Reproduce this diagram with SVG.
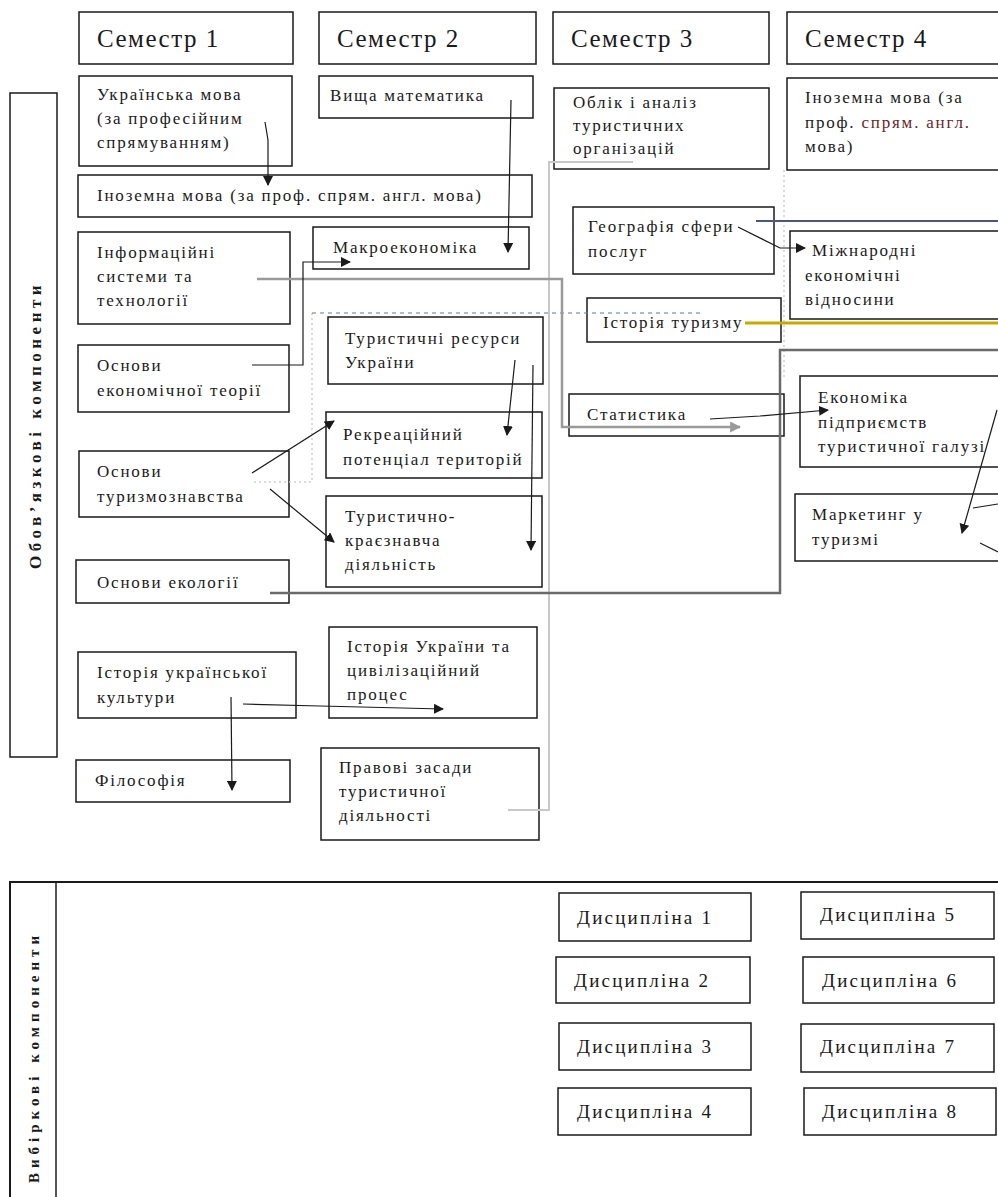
<svg xmlns="http://www.w3.org/2000/svg" width="998" height="1197" viewBox="0 0 998 1197">
<style>
.box{fill:#fff;stroke:#1a1a1a;stroke-width:1.5}
.t{font-family:"Liberation Serif","Times New Roman",serif;font-size:17px;fill:#1a1a1a;letter-spacing:1.8px}
.h{font-size:25px;letter-spacing:1.5px}
.d{font-size:19px;letter-spacing:2.2px}
.v{font-family:"Liberation Serif","Times New Roman",serif;font-weight:bold;font-size:17px;fill:#1a1a1a;letter-spacing:4.5px}
.c{fill:none;stroke:#1a1a1a;stroke-width:1.2}
.g{fill:none;stroke:#9a9a9a;stroke-width:2.5}
.dg{fill:none;stroke:#6a6a6a;stroke-width:2.5}
.lg{fill:none;stroke:#c8c8c8;stroke-width:2}
.dot{fill:none;stroke:#cfcfcf;stroke-width:1.5;stroke-dasharray:2 3}
.m{fill:#6a1f2a}
</style>
<defs>
<marker id="a" viewBox="0 0 10 10" refX="9" refY="5" markerWidth="10" markerHeight="10" markerUnits="userSpaceOnUse" orient="auto"><path d="M0,0 L10,5 L0,10 z" fill="#1a1a1a"/></marker>
<marker id="ag" viewBox="0 0 10 10" refX="9" refY="5" markerWidth="11" markerHeight="11" markerUnits="userSpaceOnUse" orient="auto"><path d="M0,0 L10,5 L0,10 z" fill="#9a9a9a"/></marker>
</defs>
<rect width="998" height="1197" fill="#fff"/>

<g id="obov">
<rect class="box" x="10" y="93" width="47" height="664"/>
<text class="v" transform="translate(41,425) rotate(-90)" text-anchor="middle">Обов’язкові компоненти</text>
</g>
<g id="vybir">
<path d="M10,1197 L10,882 L998,882" fill="none" stroke="#1a1a1a" stroke-width="2"/>
<path d="M56,882 L56,1197" fill="none" stroke="#1a1a1a" stroke-width="1.5"/>
<text class="v" transform="translate(39,1057) rotate(-90)" text-anchor="middle" style="font-size:15px;letter-spacing:5px">Вибіркові компоненти</text>
</g>

<g id="sem1"><rect class="box" x="79" y="12" width="214" height="52"/><text class="t h" x="97" y="47">Семестр 1</text></g>
<g id="sem2"><rect class="box" x="319" y="12" width="217" height="52"/><text class="t h" x="337" y="47">Семестр 2</text></g>
<g id="sem3"><rect class="box" x="553" y="12" width="216" height="52"/><text class="t h" x="571" y="47">Семестр 3</text></g>
<g id="sem4"><rect class="box" x="787" y="12" width="215" height="52"/><text class="t h" x="805" y="47">Семестр 4</text></g>

<g id="ukr-mova"><rect class="box" x="79" y="76" width="213" height="90"/>
<text class="t" x="97" y="100">Українська мова</text><text class="t" x="97" y="124">(за професійним</text><text class="t" x="97" y="148">спрямуванням)</text></g>
<g id="inoz1"><rect class="box" x="78" y="175" width="454" height="42"/><text class="t" x="97" y="201">Іноземна мова (за проф. спрям. англ. мова)</text></g>
<g id="inform"><rect class="box" x="78" y="232" width="212" height="92"/>
<text class="t" x="97" y="258">Інформаційні</text><text class="t" x="97" y="282">системи та</text><text class="t" x="97" y="306">технології</text></g>
<g id="econ-teor"><rect class="box" x="78" y="345" width="211" height="67"/>
<text class="t" x="97" y="371">Основи</text><text class="t" x="97" y="396">економічної теорії</text></g>
<g id="turyzm"><rect class="box" x="79" y="451" width="210" height="66"/>
<text class="t" x="97" y="477">Основи</text><text class="t" x="97" y="502">туризмознавства</text></g>
<g id="ekol"><rect class="box" x="76" y="560" width="213" height="43"/><text class="t" x="97" y="588">Основи екології</text></g>
<g id="kult"><rect class="box" x="78" y="652" width="218" height="66"/>
<text class="t" x="97" y="678">Історія української</text><text class="t" x="97" y="703">культури</text></g>
<g id="filos"><rect class="box" x="76" y="760" width="214" height="42"/><text class="t" x="95" y="786">Філософія</text></g>

<g id="vyshcha"><rect class="box" x="319" y="76" width="214" height="42"/><text class="t" x="330" y="101">Вища математика</text></g>
<g id="makro"><rect class="box" x="313" y="227" width="216" height="42"/><text class="t" x="333" y="253">Макроекономіка</text></g>
<g id="tur-res"><rect class="box" x="328" y="317" width="215" height="67"/>
<text class="t" x="345" y="344">Туристичні ресурси</text><text class="t" x="345" y="368">України</text></g>
<g id="rekr"><rect class="box" x="326" y="412" width="216" height="66"/>
<text class="t" x="343" y="440">Рекреаційний</text><text class="t" x="343" y="465">потенціал територій</text></g>
<g id="kraez"><rect class="box" x="326" y="496" width="216" height="91"/>
<text class="t" x="345" y="522">Туристично-</text><text class="t" x="345" y="546">краєзнавча</text><text class="t" x="345" y="570">діяльність</text></g>
<g id="ist-ukr"><rect class="box" x="329" y="627" width="208" height="91"/>
<text class="t" x="347" y="652">Історія України та</text><text class="t" x="347" y="676">цивілізаційний</text><text class="t" x="347" y="700">процес</text></g>
<g id="pravo"><rect class="box" x="321" y="748" width="218" height="92"/>
<text class="t" x="339" y="773">Правові засади</text><text class="t" x="339" y="797">туристичної</text><text class="t" x="339" y="821">діяльності</text></g>

<g id="oblik"><rect class="box" x="554" y="88" width="215" height="81"/>
<text class="t" x="573" y="108">Облік і аналіз</text><text class="t" x="573" y="131">туристичних</text><text class="t" x="573" y="154">організацій</text></g>
<g id="geogr"><rect class="box" x="573" y="207" width="201" height="67"/>
<text class="t" x="588" y="232">Географія сфери</text><text class="t" x="588" y="257">послуг</text></g>
<g id="ist-tur"><rect class="box" x="587" y="298" width="194" height="44"/><text class="t" x="603" y="328">Історія туризму</text></g>
<g id="stat"><rect class="box" x="569" y="394" width="215" height="42"/><text class="t" x="587" y="420">Статистика</text></g>

<g id="inoz4"><rect class="box" x="787" y="78" width="215" height="92"/>
<text class="t" x="805" y="103">Іноземна мова (за</text><text class="t" x="805" y="128">проф. <tspan class="m">спрям. англ.</tspan></text><text class="t" x="805" y="152">мова)</text></g>
<g id="mizhn"><rect class="box" x="790" y="231" width="212" height="88"/>
<text class="t" x="812" y="256">Міжнародні</text><text class="t" x="805" y="281">економічні</text><text class="t" x="805" y="305">відносини</text></g>
<g id="ekon-pidpr"><rect class="box" x="800" y="376" width="202" height="91"/>
<text class="t" x="818" y="403">Економіка</text><text class="t" x="818" y="428">підприємств</text><text class="t" x="818" y="452">туристичної галузі</text></g>
<g id="market"><rect class="box" x="795" y="494" width="207" height="67"/>
<text class="t" x="812" y="520">Маркетинг у</text><text class="t" x="812" y="545">туризмі</text></g>

<g id="d1"><rect class="box" x="559" y="893" width="192" height="48"/><text class="t d" x="577" y="924">Дисципліна 1</text></g>
<g id="d2"><rect class="box" x="556" y="957" width="194" height="46"/><text class="t d" x="574" y="987">Дисципліна 2</text></g>
<g id="d3"><rect class="box" x="559" y="1023" width="192" height="47"/><text class="t d" x="577" y="1053">Дисципліна 3</text></g>
<g id="d4"><rect class="box" x="558" y="1088" width="193" height="47"/><text class="t d" x="577" y="1118">Дисципліна 4</text></g>
<g id="d5"><rect class="box" x="801" y="892" width="193" height="47"/><text class="t d" x="820" y="921">Дисципліна 5</text></g>
<g id="d6"><rect class="box" x="803" y="957" width="191" height="46"/><text class="t d" x="822" y="987">Дисципліна 6</text></g>
<g id="d7"><rect class="box" x="801" y="1024" width="193" height="48"/><text class="t d" x="820" y="1053">Дисципліна 7</text></g>
<g id="d8"><rect class="box" x="804" y="1088" width="192" height="47"/><text class="t d" x="822" y="1118">Дисципліна 8</text></g>

<g id="connectors">
<path class="lg" d="M633,162 L549,162 L549,810 L508,810"/>
<path class="dot" d="M312,313 L312,482 L252,482"/>
<path class="dot" d="M784,170 L784,377"/>
<path d="M312,313 L700,313" fill="none" stroke="#5a7aa8" stroke-width="1.2" stroke-dasharray="4 4"/>
<path class="g" d="M257,279 L562,279 L562,427 L740,427" marker-end="url(#ag)"/>
<path class="dg" d="M270,593 L780,593 L780,350 L998,350"/>
<path d="M756,221 L998,221" fill="none" stroke="#4b5878" stroke-width="2"/>
<path d="M745,323 L998,323" fill="none" stroke="#c9a800" stroke-width="3"/>
<path class="c" d="M265,122 L268,140 L268,185" marker-end="url(#a)"/>
<path class="c" d="M511,100 L508,252" marker-end="url(#a)"/>
<path class="c" d="M252,365 L303,365 L303,262 L350,262" marker-end="url(#a)"/>
<path class="c" d="M252,473 L334,421" marker-end="url(#a)"/>
<path class="c" d="M270,489 L334,542" marker-end="url(#a)"/>
<path class="c" d="M515,360 L507,435" marker-end="url(#a)"/>
<path class="c" d="M533,365 L531,550" marker-end="url(#a)"/>
<path class="c" d="M738,227 L780,248 L805,248" marker-end="url(#a)"/>
<path class="c" d="M710,419 L760,416 L828,410" marker-end="url(#a)"/>
<path class="c" d="M997,410 L962,533" marker-end="url(#a)"/>
<path class="c" d="M973,508 L998,504"/>
<path class="c" d="M980,543 L998,552"/>
<path class="c" d="M231,697 L232,790" marker-end="url(#a)"/>
<path class="c" d="M243,704 L320,706 L443,709" marker-end="url(#a)"/>
</g>
</svg>
